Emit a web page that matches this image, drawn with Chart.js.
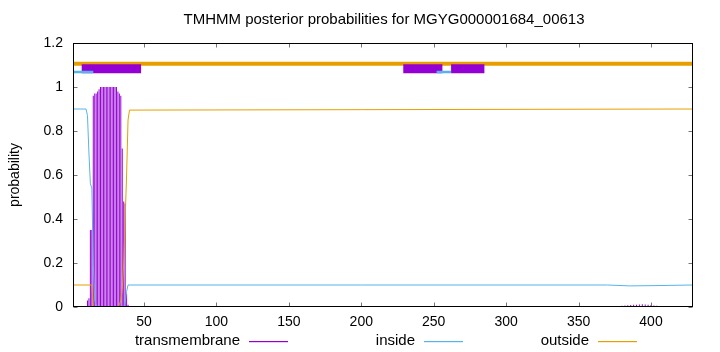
<!DOCTYPE html>
<html><head><meta charset="utf-8">
<script src="https://cdn.jsdelivr.net/npm/chart.js@4"></script>
<style>html,body{margin:0;padding:0;background:#fff;}canvas{display:block;}</style>
</head><body>
<canvas id="c" width="720" height="352"></canvas>
<script>
const chartTitle = "TMHMM posterior probabilities for MGYG000001684_00613";
const yAxisTitle = "probability";
const seriesLabels = ["transmembrane", "inside", "outside"];
const xRange = [1, 429];
const xTicks = [50, 100, 150, 200, 250, 300, 350, 400];
const yTicks = [0, 0.2, 0.4, 0.6, 0.8, 1, 1.2];

// transmembrane posterior (impulses), only non-zero residues
const tmPos = [11, 12, 13, 14, 15, 16, 17, 18, 19, 20, 21, 22, 23, 24, 25, 26, 27, 28, 29, 30, 31, 32, 33, 34, 35, 36, 37, 38, 39,
  270, 273, 276, 279, 282, 285, 288,
  378, 380, 382, 384, 386, 388, 390, 392, 394, 396, 398, 400, 402, 404, 406];
const tmVal = [0.03, 0.04, 0.35, 0.35, 0.96, 0.97, 0.97, 0.98, 0.99, 1, 1, 1, 1, 1, 1, 1, 1, 1, 1, 1, 1, 0.98, 0.97, 0.96, 0.72, 0.48, 0.47, 0.06, 0.01,
  0.003, 0.004, 0.004, 0.005, 0.004, 0.004, 0.003,
  0.004, 0.006, 0.007, 0.008, 0.009, 0.01, 0.01, 0.011, 0.012, 0.011, 0.01, 0.009, 0.007, 0.006, 0.004];

// inside posterior
const insidePos = [1, 10, 11, 12, 13, 14, 15, 16, 17, 18, 36, 37, 38, 39, 200, 370, 385, 400, 429];
const insideVal = [0.9, 0.9, 0.87, 0.7, 0.56, 0.54, 0.2, 0.03, 0.01, 0, 0, 0.02, 0.07, 0.1, 0.1, 0.1, 0.096, 0.097, 0.1];

// outside posterior
const outsidePos = [1, 14, 15, 32, 33, 34, 35, 36, 37, 38, 39, 40, 200, 429];
const outsideVal = [0.1, 0.1, 0, 0, 0.01, 0.03, 0.08, 0.2, 0.4, 0.6, 0.85, 0.895, 0.897, 0.9];

// predicted topology segments [start, end]
const outsideSegments = [[1, 429]];
const tmSegments = [[7, 48], [229, 256], [262, 285]];
const insideSegments = [[1, 15], [252, 262]];
const segmentLevels = { outside: 1.106, tm: 1.083, inside: 1.068 };

const PURPLE = '#9400D3', BLUE = '#56B4E9', ORANGE = '#E69F00';
const legendColors = [PURPLE, BLUE, ORANGE];
const FONT = '"Liberation Sans", Arial, Helvetica, sans-serif';

function pts(xs, ys) { return xs.map((x, i) => ({ x: x, y: ys[i] })); }
function segs(list, level) {
  const out = [];
  list.forEach(s => { out.push({ x: s[0], y: level }, { x: s[1], y: level }, { x: s[1], y: null }); });
  return out;
}

const framePlugin = {
  id: 'frame',
  afterDatasetsDraw(chart) {
    const { ctx, chartArea: a, scales: { x, y } } = chart;
    ctx.save();
    ctx.lineWidth = 1;
    const L = Math.round(a.left) + 0.5, R = Math.round(a.right) - 0.5;
    const T = Math.round(a.top) + 0.5, B = Math.round(a.bottom) - 0.5;
    ctx.beginPath();
    x.ticks.forEach(t => {
      const p = Math.round(x.getPixelForValue(t.value)) + 0.5;
      ctx.moveTo(p, B); ctx.lineTo(p, B - 4);
      ctx.moveTo(p, T); ctx.lineTo(p, T + 4);
    });
    y.ticks.forEach(t => {
      const p = Math.round(y.getPixelForValue(t.value)) + 0.5;
      ctx.moveTo(L, p); ctx.lineTo(L + 4, p);
      ctx.moveTo(R, p); ctx.lineTo(R - 4, p);
    });
    ctx.strokeStyle = '#777';
    ctx.stroke();
    ctx.strokeStyle = '#000';
    ctx.strokeRect(L, T, R - L, B - T);
    ctx.restore();
  }
};

const textPlugin = {
  id: 'texts',
  afterDraw(chart) {
    const { ctx } = chart;
    ctx.save();
    ctx.fillStyle = '#000';
    ctx.font = '15px ' + FONT;
    ctx.textBaseline = 'middle';
    ctx.textAlign = 'center';
    ctx.fillText(chartTitle, 384, 20);
    const ly = 341;
    for (let i = 0; i < 3; i++) {
      const lineStart = Math.round(249 + i * 174.5);
      ctx.textAlign = 'right';
      ctx.fillStyle = '#000';
      ctx.fillText(seriesLabels[i], lineStart - 9, ly);
      ctx.fillStyle = legendColors[i];
      ctx.fillRect(lineStart, ly, 39, 1.2);
    }
    ctx.restore();
  }
};

Chart.defaults.font.family = FONT;
Chart.defaults.font.size = 14;
Chart.defaults.color = '#000';

new Chart(document.getElementById('c'), {
  type: 'line',
  data: {
    datasets: [
      { type: 'bar', label: seriesLabels[0], data: pts(tmPos, tmVal),
        backgroundColor: PURPLE, borderWidth: 0, barThickness: 1, inflateAmount: 0, order: 5 },
      { label: seriesLabels[1], data: pts(insidePos, insideVal),
        borderColor: BLUE, borderWidth: 1, pointRadius: 0, tension: 0, fill: false, order: 4 },
      { label: seriesLabels[2], data: pts(outsidePos, outsideVal),
        borderColor: ORANGE, borderWidth: 1, pointRadius: 0, tension: 0, fill: false, order: 3 },
      { label: 'outside segments', data: segs(outsideSegments, segmentLevels.outside),
        borderColor: ORANGE, borderWidth: 4, borderCapStyle: 'butt', pointRadius: 0, spanGaps: false, fill: false, order: 2 },
      { label: 'transmembrane segments', data: segs(tmSegments, segmentLevels.tm),
        borderColor: PURPLE, borderWidth: 9, borderCapStyle: 'butt', pointRadius: 0, spanGaps: false, fill: false, order: 1 },
      { label: 'inside segments', data: segs(insideSegments, segmentLevels.inside),
        borderColor: BLUE, borderWidth: 2.5, borderCapStyle: 'butt', pointRadius: 0, spanGaps: false, fill: false, order: 0 }
    ]
  },
  options: {
    responsive: false,
    animation: false,
    devicePixelRatio: 1,
    events: [],
    layout: { padding: { left: 0, right: 27, top: 43, bottom: 0 } },
    plugins: { legend: { display: false }, title: { display: false }, tooltip: { enabled: false } },
    scales: {
      x: {
        type: 'linear', min: xRange[0], max: xRange[1], offset: false, bounds: 'data',
        grid: { display: false, drawTicks: false },
        border: { display: false },
        afterBuildTicks: s => { s.ticks = xTicks.map(v => ({ value: v })); },
        afterFit: s => { s.height = 45; },
        ticks: { padding: 7, maxRotation: 0, autoSkip: false, color: '#000', font: { size: 14 } }
      },
      y: {
        type: 'linear', min: 0, max: 1.2,
        grid: { display: false, drawTicks: false },
        border: { display: false },
        afterBuildTicks: s => { s.ticks = yTicks.map(v => ({ value: v })); },
        afterFit: s => { s.width = 73; },
        title: { display: true, text: yAxisTitle, color: '#000', font: { size: 14 }, padding: { top: 7, bottom: 0 } },
        ticks: { padding: 10, autoSkip: false, color: '#000', font: { size: 14 },
          callback: v => String(Math.round(v * 10) / 10) }
      }
    }
  },
  plugins: [framePlugin, textPlugin]
});
</script>
</body></html>
